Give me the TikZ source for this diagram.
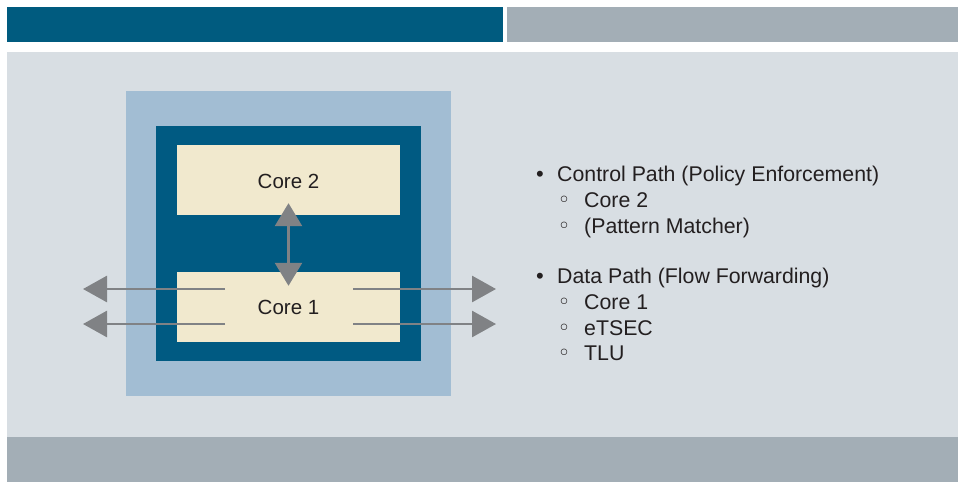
\documentclass[tikz,border=0pt]{standalone}
\usepackage{fontspec}
\setmainfont{Liberation Sans}
\newfontfamily\symfont{DejaVu Sans}
\usetikzlibrary{arrows.meta}
\definecolor{teal}{HTML}{005B7F}
\definecolor{bargray}{HTML}{A3AEB6}
\definecolor{panel}{HTML}{D8DEE3}
\definecolor{lightblue}{HTML}{A2BDD3}
\definecolor{darkblue}{HTML}{005A82}
\definecolor{cream}{HTML}{F1E9CE}
\definecolor{arrowgray}{HTML}{808285}
\definecolor{ink}{HTML}{231F20}
\tikzset{
  corebox/.style={fill=cream, draw=none, minimum width=223pt, minimum height=70pt, inner sep=0pt,
    font=\fontsize{20.5}{24}\selectfont, text=ink},
  conn/.style={draw=arrowgray, line width=2.8pt, -{Triangle[length=24pt,width=26pt]}},
  bicon/.style={draw=arrowgray, line width=2.8pt, {Triangle[length=23pt,width=27pt]}-{Triangle[length=23pt,width=27pt]}},
  itemtxt/.style={anchor=base west, inner sep=0pt, font=\fontsize{21.3}{25}\selectfont, text=ink},
  dotb/.style={anchor=base, inner sep=0pt, font=\fontsize{22}{25}\selectfont, text=ink},
  circb/.style={anchor=base, inner sep=0pt, font=\symfont\fontsize{22}{25}\selectfont, text=ink}
}
\begin{document}
\begin{tikzpicture}[x=1pt,y=-1pt]
\useasboundingbox (0,0) rectangle (958,482);
\fill[white] (0,0) rectangle (958,482);
% bars and panel
\fill[teal] (7,7) rectangle (503,42);
\fill[bargray] (507,7) rectangle (958,42);
\fill[panel] (7,52) rectangle (958,437);
\fill[bargray] (7,437) rectangle (958,482);
% chip
\fill[lightblue] (126,91) rectangle (451,396);
\fill[darkblue] (156,126) rectangle (421,361);
\node[corebox, text depth=0pt] (c2) at (288.5,180) {\raisebox{-2pt}{Core 2}};
\node[corebox, text depth=0pt] (c1) at (288.5,307) {\raisebox{-1pt}{Core 1}};
% connectors
\draw[bicon] ([yshift=12pt]c2.south) -- ([yshift=-14pt]c1.north);
\coordinate (la) at (225,289);
\coordinate (lb) at (225,324);
\coordinate (ra) at (353,289);
\coordinate (rb) at (353,324);
\coordinate (lae) at (83,289);
\coordinate (lbe) at (83,324);
\coordinate (rae) at (496,289);
\coordinate (rbe) at (496,324);
\draw[conn] (la) -- (lae);
\draw[conn] (lb) -- (lbe);
\draw[conn] (ra) -- (rae);
\draw[conn] (rb) -- (rbe);
% text list
\node[dotb] (b1) at (540,181.5) {•};
\node[itemtxt] (t1) at (557,181.5) {Control Path (Policy Enforcement)};
\node[circb] (s1) at (564,207.5) {◦};
\node[itemtxt] (t2) at (584,207.5) {Core 2};
\node[circb] (s2) at (564,233.5) {◦};
\node[itemtxt] (t3) at (584,233.5) {(Pattern Matcher)};
\node[dotb] (b2) at (540,283.5) {•};
\node[itemtxt] (t4) at (557,283.5) {Data Path (Flow Forwarding)};
\node[circb] (s3) at (564,309.5) {◦};
\node[itemtxt] (t5) at (584,309.5) {Core 1};
\node[circb] (s4) at (564,335) {◦};
\node[itemtxt] (t6) at (584,335) {eTSEC};
\node[circb] (s5) at (564,360.5) {◦};
\node[itemtxt] (t7) at (584,360.5) {TLU};
\end{tikzpicture}
\end{document}
